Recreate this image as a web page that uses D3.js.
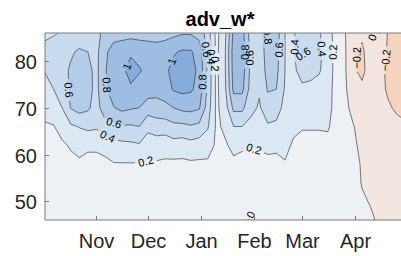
<!DOCTYPE html>
<html>
<head>
<meta charset="UTF-8">
<style>
body { margin: 0; background: #fff; }
svg { display: block; font-family: "Liberation Sans", Arial, Helvetica, sans-serif; }
</style>
</head>
<body>
<script src="https://cdnjs.cloudflare.com/ajax/libs/d3/7.8.5/d3.min.js"></script>
<script>
// grid: one column every 5 days from 2 Oct, rows from 86N down to 46N
var startDate = '2018-10-02';
var stepDays = 5;
var lats = [86, 82, 78, 74, 70, 66, 62, 58, 54, 50, 46];
var levels = [-0.4, -0.2, 0, 0.2, 0.4, 0.6, 0.8, 1.0];
var monthTicks = ['2018-11-01', '2018-12-01', '2019-01-01', '2019-02-01', '2019-03-01', '2019-04-01'];
var latTicks = [50, 60, 70, 80];

// adv_w* per date column, top (86N) to bottom (46N)
var advByDate = [
  [0.35, 0.47, 0.41, 0.34, 0.26, 0.18, 0.12, 0.10, 0.08, 0.07, 0.06], // Oct 2
  [0.38, 0.50, 0.46, 0.40, 0.30, 0.19, 0.14, 0.10, 0.08, 0.07, 0.06],
  [0.42, 0.55, 0.55, 0.50, 0.40, 0.28, 0.17, 0.12, 0.09, 0.07, 0.06],
  [0.48, 0.58, 0.62, 0.63, 0.61, 0.37, 0.22, 0.15, 0.10, 0.08, 0.07],
  [0.50, 0.62, 0.68, 0.70, 0.68, 0.41, 0.26, 0.17, 0.12, 0.09, 0.07],
  [0.50, 0.60, 0.65, 0.66, 0.63, 0.45, 0.23, 0.15, 0.11, 0.09, 0.07],
  [0.55, 0.55, 0.55, 0.55, 0.52, 0.43, 0.23, 0.15, 0.11, 0.09, 0.07], // Nov 1
  [0.65, 0.76, 0.78, 0.77, 0.72, 0.52, 0.26, 0.16, 0.12, 0.10, 0.08],
  [0.72, 0.88, 0.92, 0.90, 0.79, 0.55, 0.33, 0.19, 0.12, 0.10, 0.08],
  [0.72, 0.92, 0.97, 0.95, 0.85, 0.58, 0.35, 0.19, 0.12, 0.10, 0.08],
  [0.72, 0.98, 1.05, 0.98, 0.82, 0.58, 0.36, 0.19, 0.12, 0.10, 0.08],
  [0.70, 0.96, 1.01, 0.95, 0.80, 0.60, 0.38, 0.19, 0.12, 0.10, 0.08],
  [0.70, 0.93, 0.97, 0.90, 0.70, 0.45, 0.30, 0.18, 0.12, 0.10, 0.08], // Dec 1
  [0.70, 0.90, 0.92, 0.87, 0.72, 0.50, 0.30, 0.18, 0.12, 0.10, 0.08],
  [0.72, 0.92, 0.96, 0.90, 0.75, 0.50, 0.28, 0.17, 0.12, 0.10, 0.08],
  [0.75, 0.98, 1.06, 1.02, 0.80, 0.55, 0.32, 0.16, 0.12, 0.10, 0.08],
  [0.78, 1.02, 1.10, 1.05, 0.85, 0.55, 0.30, 0.16, 0.12, 0.10, 0.08],
  [0.78, 1.02, 1.08, 1.03, 0.86, 0.58, 0.33, 0.17, 0.12, 0.10, 0.08],
  [0.72, 0.92, 0.95, 0.93, 0.82, 0.55, 0.30, 0.17, 0.12, 0.10, 0.08], // Dec 31
  [0.50, 0.55, 0.55, 0.55, 0.50, 0.42, 0.28, 0.17, 0.12, 0.10, 0.08],
  [0.14, 0.15, 0.15, 0.15, 0.16, 0.17, 0.17, 0.15, 0.12, 0.10, 0.08],
  [0.35, 0.38, 0.38, 0.36, 0.30, 0.23, 0.18, 0.14, 0.12, 0.10, 0.08],
  [0.85, 0.90, 0.88, 0.85, 0.65, 0.40, 0.24, 0.17, 0.12, 0.10, 0.08],
  [0.88, 0.92, 0.90, 0.85, 0.65, 0.40, 0.22, 0.16, 0.12, 0.10, 0.04],
  [0.50, 0.55, 0.55, 0.52, 0.45, 0.35, 0.21, 0.14, 0.11, 0.05, -0.02], // Jan 30
  [0.42, 0.45, 0.45, 0.42, 0.38, 0.30, 0.22, 0.15, 0.12, 0.09, 0.04],
  [0.82, 0.72, 0.68, 0.62, 0.50, 0.38, 0.24, 0.16, 0.12, 0.10, 0.07],
  [0.70, 0.68, 0.65, 0.60, 0.48, 0.36, 0.23, 0.16, 0.12, 0.10, 0.07],
  [0.40, 0.40, 0.40, 0.38, 0.34, 0.28, 0.24, 0.19, 0.12, 0.10, 0.07],
  [0.38, 0.38, 0.36, 0.33, 0.30, 0.23, 0.18, 0.14, 0.11, 0.10, 0.07],
  [0.50, 0.62, 0.48, 0.36, 0.30, 0.21, 0.16, 0.13, 0.11, 0.10, 0.07], // Mar 1
  [0.50, 0.58, 0.46, 0.35, 0.28, 0.21, 0.16, 0.13, 0.11, 0.09, 0.07],
  [0.42, 0.45, 0.42, 0.32, 0.27, 0.21, 0.16, 0.13, 0.11, 0.09, 0.07],
  [0.28, 0.30, 0.28, 0.26, 0.25, 0.22, 0.15, 0.12, 0.10, 0.09, 0.07],
  [0.12, 0.13, 0.14, 0.14, 0.14, 0.12, 0.10, 0.10, 0.09, 0.08, 0.07],
  [0.01, 0.02, 0.02, 0.03, 0.04, 0.05, 0.06, 0.06, 0.06, 0.05, 0.05],
  [-0.15, -0.17, -0.17, -0.12, -0.05, 0.005, 0.02, 0.03, 0.03, 0.03, 0.02], // Mar 31
  [-0.15, -0.25, -0.26, -0.15, -0.08, -0.05, -0.03, -0.01, -0.005, 0.01, 0.02],
  [0.03, -0.04, -0.08, -0.08, -0.07, -0.06, -0.04, -0.03, -0.02, -0.005, 0.01],
  [-0.05, -0.10, -0.15, -0.15, -0.12, -0.10, -0.07, -0.05, -0.03, -0.02, -0.01],
  [-0.21, -0.22, -0.23, -0.22, -0.18, -0.14, -0.10, -0.07, -0.05, -0.03, -0.02],
  [-0.25, -0.28, -0.30, -0.28, -0.22, -0.16, -0.12, -0.08, -0.06, -0.04, -0.03],
  [-0.28, -0.30, -0.32, -0.30, -0.24, -0.18, -0.13, -0.09, -0.06, -0.05, -0.04]  // Apr 30
];

// inline contour labels: [date, lat, level]
var labelDates = ['2018-10-15', '2018-11-08', '2018-11-11', '2018-11-07', '2018-11-29', '2018-11-21',
  '2018-12-16', '2019-01-02', '2019-01-03', '2019-01-06', '2019-01-08', '2019-01-26', '2019-01-29',
  '2019-01-31', '2019-02-08', '2019-02-15', '2019-02-27', '2019-03-03', '2019-03-07', '2019-03-18',
  '2019-02-01', '2019-03-31', '2019-04-12', '2019-04-18', '2019-01-30'];
var labelLats = [73.8, 74.9, 66.5, 63.5, 59.7, 78.5, 79.8, 75.5, 82.4, 80.9, 79.4, 81.9, 80.7,
  83.4, 83, 82.4, 83, 80.7, 82.4, 81.9, 61.4, 80.7, 84.9, 80.2, 47.9];
var labelLevels = [0.6, 0.8, 0.6, 0.4, 0.2, 1, 1, 0.8, 0.6, 0.4, 0.2, 0.8, 0.6,
  0.4, 0.8, 0.6, 0.4, 0.6, 0.4, 0.2, 0.2, -0.2, 0, -0.2, 0];

var bandColors = ['#f6d3bf', '#f3e5df', '#edf0f4', '#dbe7f2', '#c9dbee', '#b4cce8', '#9dbde2', '#85acdb'];

var W = 401, H = 256;
var L = 45, R = 405, T = 33, B = 220;
var parse = d3.utcParse('%Y-%m-%d');
var t0 = parse(startDate);
var nx = advByDate.length, ny = lats.length;

var x = d3.scaleUtc()
  .domain([t0, d3.utcDay.offset(t0, stepDays * (nx - 1))])
  .range([L, R]);
var y = d3.scaleLinear().domain([46, 86]).range([B, T]);

// grid coords from d3.contours -> pixels
function gx(c) { return x(new Date(t0.getTime() + (c - 0.5) * stepDays * 864e5)); }
function gy(r) { return y(lats[0] + (r - 0.5) * (lats[1] - lats[0])); }

var values = [];
for (var r = 0; r < ny; r++)
  for (var c = 0; c < nx; c++) values.push(advByDate[c][r]);

var contours = d3.contours().size([nx, ny]).thresholds(levels)(values);

var path = d3.geoPath(d3.geoTransform({
  point: function(px, py) { this.stream.point(gx(px), gy(py)); }
}));

var svg = d3.select('body').append('svg')
  .attr('width', W).attr('height', H);

var defs = svg.append('defs');
defs.append('clipPath').attr('id', 'plot')
  .append('rect').attr('x', L).attr('y', T).attr('width', R - L).attr('height', B - T);

var mask = defs.append('mask').attr('id', 'lblmask')
  .attr('maskUnits', 'userSpaceOnUse').attr('x', 0).attr('y', 0).attr('width', W).attr('height', H);
mask.append('rect').attr('width', W).attr('height', H).attr('fill', '#fff');

var g = svg.append('g').attr('clip-path', 'url(#plot)');

g.selectAll('path.band')
  .data(contours)
  .enter().append('path')
  .attr('class', 'band')
  .attr('d', path)
  .attr('fill', function(d, i) { return bandColors[i]; });

var lines = g.append('g').attr('mask', 'url(#lblmask)');
lines.selectAll('path')
  .data(contours.slice(1))
  .enter().append('path')
  .attr('d', path)
  .attr('fill', 'none')
  .attr('stroke', '#262626')
  .attr('stroke-width', 0.6);

// snap each label onto its contour and orient it along the line
function snap(level, px, py) {
  var best = null;
  contours.forEach(function(ct) {
    if (Math.abs(ct.value - level) > 1e-9) return;
    ct.coordinates.forEach(function(poly) {
      poly.forEach(function(ring) {
        for (var k = 0; k < ring.length - 1; k++) {
          var ax = gx(ring[k][0]), ay = gy(ring[k][1]);
          var bx = gx(ring[k + 1][0]), by = gy(ring[k + 1][1]);
          var dx = bx - ax, dy = by - ay, len = dx * dx + dy * dy;
          if (len === 0) continue;
          var t = Math.max(0, Math.min(1, ((px - ax) * dx + (py - ay) * dy) / len));
          var qx = ax + t * dx, qy = ay + t * dy;
          if (qx < L || qx > W || qy < T || qy > B) continue;
          var dist = Math.hypot(qx - px, qy - py);
          if (!best || dist < best.d) best = { d: dist, x: qx, y: qy, a: Math.atan2(dy, dx) * 180 / Math.PI };
        }
      });
    });
  });
  return best;
}

var lbl = g.append('g').attr('font-size', 11).attr('fill', '#000');
labelDates.forEach(function(ds, i) {
  var lv = labelLevels[i];
  var s = snap(lv, x(parse(ds)), y(labelLats[i]));
  if (!s || s.d > 20) return;
  var a = s.a;
  if (a > 90) a -= 180;
  if (a <= -90) a += 180;
  var txt = d3.format('~g')(lv);
  var tr = 'translate(' + s.x + ',' + s.y + ') rotate(' + a + ')';
  var w = txt.length * 6.2 + 3;
  mask.append('rect').attr('x', -w / 2).attr('y', -5.5).attr('width', w).attr('height', 11)
    .attr('transform', tr).attr('fill', '#000');
  lbl.append('text').attr('transform', tr)
    .attr('text-anchor', 'middle').attr('dy', '0.36em')
    .text(txt);
});

// frame
svg.append('path')
  .attr('d', 'M' + R + ',' + T + 'H' + L + 'V' + B + 'H' + R)
  .attr('fill', 'none').attr('stroke', '#7a7a7a').attr('stroke-width', 1);

// x axis
var xa = svg.append('g').attr('font-size', 20).attr('fill', '#262626');
monthTicks.forEach(function(ds) {
  var px = Math.round(x(parse(ds))) + 0.5;
  xa.append('line').attr('x1', px).attr('x2', px).attr('y1', B).attr('y2', B - 4)
    .attr('stroke', '#7a7a7a');
  xa.append('text').attr('x', px).attr('y', 248).attr('text-anchor', 'middle')
    .text(d3.utcFormat('%b')(parse(ds)));
});

// y axis
var ya = svg.append('g').attr('font-size', 20).attr('fill', '#262626');
latTicks.forEach(function(v) {
  var py = Math.round(y(v)) + 0.5;
  ya.append('line').attr('x1', L).attr('x2', L + 4).attr('y1', py).attr('y2', py)
    .attr('stroke', '#7a7a7a');
  ya.append('text').attr('x', 37).attr('y', py).attr('dy', '0.35em').attr('text-anchor', 'end')
    .text(v);
});

svg.append('text')
  .attr('x', 220).attr('y', 26)
  .attr('text-anchor', 'middle')
  .attr('font-size', 20).attr('font-weight', 'bold').attr('fill', '#000')
  .text('adv_w*');
</script>
</body>
</html>
